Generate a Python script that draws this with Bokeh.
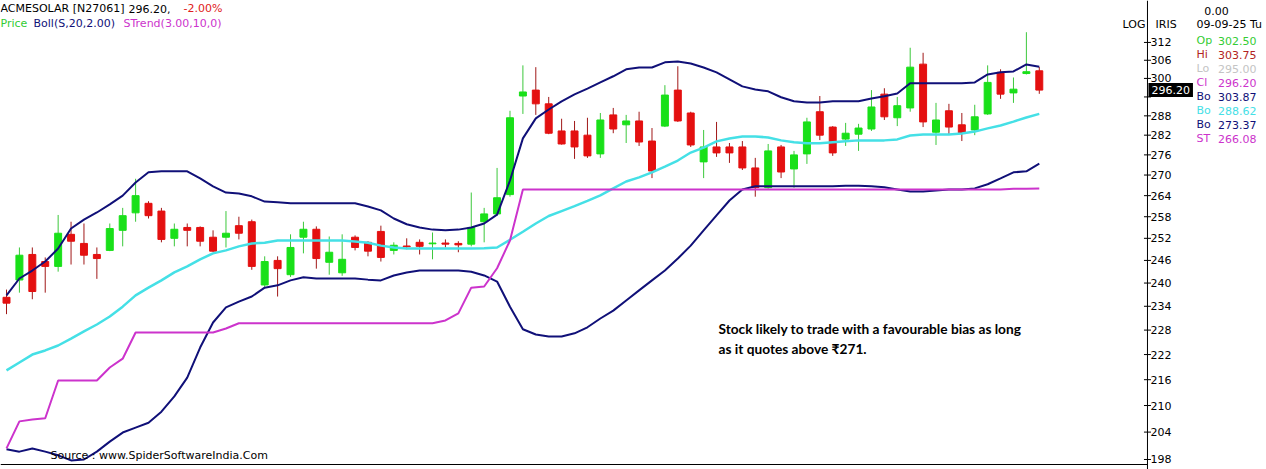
from bokeh.plotting import figure
from bokeh.models import ColumnDataSource, Range1d, Label, Span
from bokeh.embed import file_html
from bokeh.resources import INLINE
from bokeh.core.properties import value

# ---------------- data (daily candles, oldest -> newest) ----------------
opens = [236.3, 240.8, 247.6, 245.7, 244.4, 253.1, 250.6, 247.6, 248.7, 254.2,
         259.1, 261.8, 259.6, 252.0, 255.0, 255.0, 252.3, 252.3, 255.5, 256.6,
         239.5, 246.0, 242.2, 252.3, 254.5, 245.5, 242.7, 252.3, 250.9, 253.9,
         248.7, 249.9, 250.9, 250.5, 250.7, 250.6, 250.4, 256.6, 258.8, 264.3,
         294.3, 296.2, 291.8, 283.3, 283.3, 282.0, 276.3, 288.3, 285.2, 286.4,
         280.2, 284.8, 296.2, 288.9, 273.9, 278.4, 278.4, 278.4, 272.1, 266.3,
         278.4, 271.8, 276.3, 289.3, 284.5, 280.8, 282.3, 283.9, 294.9, 287.4,
         290.5, 304.7, 282.9, 289.6, 285.2, 283.6, 288.6, 302.0, 295.3, 301.6,
         302.50]
highs = [238.3, 249.5, 249.5, 246.8, 258.5, 256.6, 256.1, 249.5, 256.1, 260.5,
         268.9, 262.4, 260.5, 256.1, 256.1, 255.3, 254.2, 259.6, 258.0, 257.2,
         247.1, 247.1, 253.1, 256.6, 255.3, 252.5, 253.1, 252.8, 251.2, 255.5,
         250.9, 252.0, 251.7, 253.6, 251.7, 251.2, 264.9, 260.5, 272.1, 289.6,
         304.3, 303.7, 294.0, 287.1, 286.4, 287.4, 288.9, 290.5, 288.3, 289.3,
         284.2, 297.8, 304.0, 289.3, 283.6, 286.1, 279.6, 280.2, 275.1, 279.3,
         279.0, 277.2, 287.4, 294.3, 284.8, 285.8, 285.5, 296.2, 296.8, 294.0,
         310.2, 308.5, 292.1, 291.8, 288.9, 291.5, 304.3, 303.0, 300.3, 315.5,
         303.75]
lows = [232.0, 237.5, 235.8, 237.5, 243.0, 244.9, 244.9, 241.1, 248.5, 249.8,
        256.6, 257.5, 250.9, 249.8, 249.8, 249.8, 248.3, 249.5, 251.7, 243.5,
        238.8, 236.5, 241.6, 247.9, 243.8, 242.2, 241.9, 248.7, 247.1, 245.7,
        247.6, 249.0, 247.6, 246.3, 249.5, 248.2, 249.8, 250.9, 258.3, 263.7,
        288.6, 288.3, 282.3, 279.1, 274.8, 275.1, 275.1, 282.6, 279.6, 278.7,
        269.1, 284.5, 286.1, 278.4, 269.1, 275.4, 273.6, 271.5, 263.7, 266.0,
        269.1, 266.3, 273.3, 280.5, 275.7, 278.7, 277.2, 283.3, 286.7, 284.8,
        289.3, 284.5, 279.0, 282.3, 280.2, 282.0, 288.3, 293.4, 292.1, 301.3,
        295.00]
closes = [234.8, 247.4, 237.8, 244.4, 253.4, 251.2, 247.4, 246.5, 254.7, 258.3,
          264.0, 258.3, 251.7, 254.5, 254.2, 251.2, 248.5, 253.4, 253.4, 244.4,
          245.7, 243.8, 249.5, 254.5, 246.5, 248.2, 246.3, 249.5, 248.5, 246.8,
          250.1, 249.7, 249.8, 250.7, 250.4, 250.2, 255.0, 258.8, 263.4, 287.4,
          295.6, 291.8, 282.6, 279.3, 278.4, 275.7, 286.7, 283.9, 286.4, 279.9,
          271.2, 294.6, 286.4, 279.0, 278.4, 276.6, 276.6, 272.1, 266.3, 277.2,
          270.9, 276.0, 286.1, 282.0, 276.6, 282.6, 284.2, 290.8, 287.7, 291.2,
          303.7, 286.1, 286.7, 284.5, 282.6, 287.7, 298.7, 294.9, 296.5, 302.2,
          296.20]
bb_upper = [236.8, 241.2, 243.3, 245.7, 249.2, 254.7, 257.2, 259.2, 261.5, 264.0,
            267.8, 270.8, 271.1, 271.1, 271.1, 269.0, 266.7, 264.9, 264.6, 263.8,
            262.3, 262.1, 261.8, 261.8, 261.8, 261.8, 261.8, 261.8, 260.9, 259.8,
            257.5, 255.9, 255.0, 254.4, 254.2, 254.4, 255.0, 256.1, 258.6, 268.4,
            281.0, 287.2, 290.0, 292.6, 294.8, 296.7, 298.7, 300.7, 303.0, 303.6,
            303.6, 305.3, 305.6, 304.9, 303.6, 302.0, 299.7, 297.4, 296.4, 295.8,
            293.9, 292.6, 292.2, 292.2, 292.6, 292.6, 292.6, 293.5, 294.2, 295.1,
            298.4, 298.4, 298.4, 298.4, 298.4, 298.7, 301.3, 302.0, 302.3, 304.6,
            303.87]
bb_mid = [218.2, 220.1, 222.0, 223.0, 224.2, 225.9, 227.7, 229.4, 231.4, 233.9,
          236.8, 238.8, 240.7, 242.8, 244.4, 246.3, 247.9, 248.7, 249.8, 250.6,
          250.8, 251.4, 251.4, 251.4, 251.4, 251.4, 251.4, 251.1, 250.8, 250.0,
          249.5, 249.2, 249.2, 249.2, 249.2, 249.2, 249.2, 249.3, 249.5, 251.6,
          253.8, 256.1, 258.2, 259.6, 261.0, 262.5, 264.1, 266.1, 268.1, 269.3,
          270.8, 272.5, 274.3, 276.7, 278.2, 280.1, 281.0, 281.6, 281.6, 281.3,
          280.4, 279.8, 279.5, 279.5, 279.8, 280.1, 280.4, 280.4, 280.4, 280.7,
          281.9, 282.2, 282.2, 282.2, 282.5, 283.1, 284.1, 285.0, 286.2, 287.5,
          288.62]
bb_lower = [200.2, 199.7, 200.4, 199.7, 198.9, 197.8, 198.0, 199.7, 201.9, 203.9,
            205.0, 206.1, 208.6, 212.1, 216.5, 223.7, 229.9, 233.7, 235.2, 236.5,
            238.8, 239.4, 240.7, 241.5, 241.2, 241.2, 241.2, 241.2, 240.9, 240.7,
            242.0, 242.8, 243.3, 243.3, 243.3, 243.3, 243.0, 242.0, 240.4, 233.9,
            228.2, 226.9, 226.4, 226.4, 227.2, 228.7, 230.9, 232.9, 235.5, 238.1,
            240.7, 243.3, 246.5, 250.0, 254.2, 258.4, 262.6, 265.8, 266.7, 266.7,
            266.7, 266.7, 266.7, 266.7, 266.7, 266.9, 266.9, 266.7, 266.4, 265.8,
            265.2, 265.2, 265.5, 265.8, 265.8, 266.1, 267.3, 269.0, 270.8, 271.1,
            273.37]
supertrend = [200.4, 206.4, 206.8, 207.1, 215.8, 215.8, 215.8, 215.8, 218.9, 221.0,
              227.4, 227.4, 227.4, 227.4, 227.4, 227.4, 227.4, 228.4, 229.7, 229.7,
              229.7, 229.7, 229.7, 229.7, 229.7, 229.7, 229.7, 229.7, 229.7, 229.7,
              229.7, 229.7, 229.7, 229.7, 230.4, 232.2, 238.8, 239.1, 243.9, 251.4,
              265.8, 265.8, 265.8, 265.8, 265.8, 265.8, 265.8, 265.8, 265.8, 265.8,
              265.8, 265.8, 265.8, 265.8, 265.8, 265.8, 265.8, 265.8, 265.8, 265.8,
              265.8, 265.8, 265.8, 265.8, 265.8, 265.8, 265.8, 265.8, 265.8, 265.8,
              265.8, 265.8, 265.8, 265.8, 265.8, 265.8, 265.8, 265.8, 266.0, 266.0,
              266.08]
y_ticks = [198, 204, 210, 216, 222, 228, 234, 240, 246, 252, 258, 264, 270, 276,
           282, 288, 294, 300, 306, 312]
info_labels = ["Op", "Hi", "Lo", "Cl", "Bo", "Bo", "Bo", "ST"]
info_values = ["302.50", "303.75", "295.00", "296.20", "303.87", "288.62", "273.37", "266.08"]

# ---------------- styling / layout ----------------
UP = "#19E019"
DOWN = "#E41010"
UP_WICK = "#3CC83C"
DOWN_WICK = "#A01818"
NAVY = "#101078"
CYAN = "#45E0E6"
MAGENTA = "#CC33CC"
FONT = "DejaVu Sans"

X_START, X_END = -0.465, 97.60    # candle slots shown across the canvas
AXIS_X = 88.38                     # slot position of the price scale line
Y_LOW, Y_HIGH = 195.85, 326.6
Y_BASE = 196.92                    # bottom frame line

idx = list(range(len(closes)))
is_up = [c >= o for o, c in zip(opens, closes)]
src = ColumnDataSource(dict(
    x=idx, high=highs, low=lows,
    top=[max(o, c) for o, c in zip(opens, closes)],
    bottom=[min(o, c) for o, c in zip(opens, closes)],
    fill=[UP if u else DOWN for u in is_up],
    wick=[UP_WICK if u else DOWN_WICK for u in is_up],
))

p = figure(width=1266, height=469, output_backend="svg", toolbar_location=None,
           x_range=Range1d(X_START, X_END), y_range=Range1d(Y_LOW, Y_HIGH),
           y_axis_type="log", x_axis_location=None, y_axis_location=None,
           min_border_left=0, min_border_top=0, min_border_right=0, min_border_bottom=0)
p.outline_line_color = None
p.grid.grid_line_color = None
p.background_fill_color = "white"
p.border_fill_color = "white"

# candles
p.segment(x0="x", x1="x", y0="low", y1="high", source=src, line_color="wick", line_width=1)
p.vbar(x="x", width=0.54, top="top", bottom="bottom", source=src,
       fill_color="fill", line_color="fill", line_width=1)

# indicators
p.line(idx, bb_mid, line_color=CYAN, line_width=2.5)
p.line(idx, bb_upper, line_color=NAVY, line_width=2)
p.line(idx, bb_lower, line_color=NAVY, line_width=2)
p.line(idx, supertrend, line_color=MAGENTA, line_width=2)

# price scale (log) drawn at the right edge of the chart area
p.add_layout(Span(location=AXIS_X, dimension="height", line_color="black", line_width=1))
p.segment(x0=[X_START], x1=[AXIS_X], y0=[Y_BASE], y1=[Y_BASE], line_color="black", line_width=1)
p.scatter(x=[AXIS_X] * len(y_ticks), y=y_ticks, marker="dash", size=7,
          line_color="black", line_width=1)
# the label under the last-price box is hidden, as on the original scale
tick_text = ["" if abs(t - closes[-1]) < 3 else str(t) for t in y_ticks]
p.text(x=[AXIS_X] * len(y_ticks), y=y_ticks, text=tick_text,
       x_offset=3, text_align="left", text_baseline="middle",
       text_font=value(FONT), text_font_size=value("11px"), text_color="black")


def lab(x, y, text, color="black", size="11px", font=FONT, align="left", style="normal"):
    p.add_layout(Label(x=x, y=y, x_units="screen", y_units="screen", text=text,
                       text_color=color, text_font=font, text_font_size=size,
                       text_font_style=style, text_align=align, text_baseline="middle"))

# header
lab(0, 461, "ACMESOLAR [N27061]")
lab(128, 461, "296.20,")
lab(183, 461, "-2.00%", color="#E02020")
lab(0, 446, "Price", color="#33CC33")
lab(33, 446, "Boll(S,20,2.00)", color=NAVY)
lab(123, 446, "STrend(3.00,10,0)", color=MAGENTA)

# top-right labels
lab(1122, 445, "LOG")
lab(1155, 445, "IRIS")
lab(1216, 459, "0.00", align="center")
lab(1196, 445, "09-09-25 Tu")
info_colors = ["#33CC33", "#B22222", "#C4C4C4", MAGENTA, NAVY, CYAN, NAVY, MAGENTA]
for k, (nm, vv, col) in enumerate(zip(info_labels, info_values, info_colors)):
    yy = 429 - 14 * k
    lab(1196, yy, nm, color=col)
    lab(1256, yy, vv, color=col, align="right")

# last price box on the scale
p.add_layout(Label(x=AXIS_X, y=closes[-1], x_offset=1, text="%.2f" % closes[-1],
                   text_color="white", text_font=FONT, text_font_size="11px",
                   text_baseline="middle", background_fill_color="black", padding=3))

# source + commentary
lab(50, 14, "Source : www.SpiderSoftwareIndia.Com")
lab(718, 141, "Stock likely to trade with a favourable bias as long", font="Lato",
    size="13.7px", style="bold")
lab(718, 121, "as it quotes above \u20b9271.", font="Lato", size="13.7px", style="bold")

open("out.html", "w").write(file_html(p, INLINE))
